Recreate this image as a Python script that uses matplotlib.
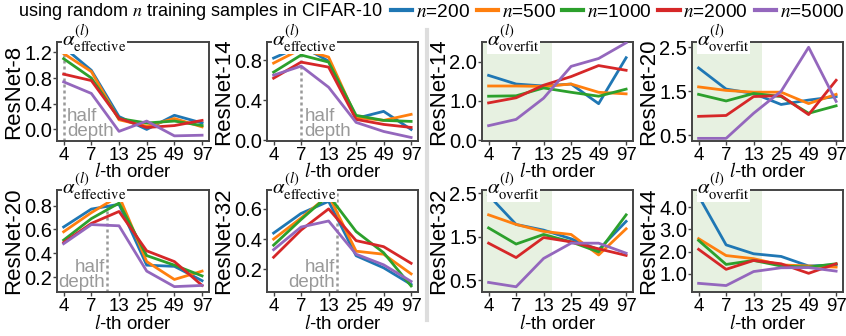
"""
Layer-wise alpha curves (effective / overfit) for ResNets trained on random CIFAR-10 subsets.
"""

import numpy as np
import matplotlib

matplotlib.use("Agg")
import matplotlib.pyplot as plt
from matplotlib.lines import Line2D


ORDERS = [4, 7, 13, 25, 49, 97]
SAMPLE_SIZES = [200, 500, 1000, 2000, 5000]
COLORS = ["#1f77b4", "#ff7f0e", "#2ca02c", "#d62728", "#9467bd"]

# rows: n=200, 500, 1000, 2000, 5000 ; columns: l = 4, 7, 13, 25, 49, 97
resnet8_effective = [
    [1.28, 0.92, 0.20, 0.00, 0.22, 0.10],
    [1.18, 0.90, 0.15, 0.05, 0.17, 0.04],
    [1.10, 0.80, 0.17, 0.10, 0.13, 0.06],
    [0.86, 0.76, 0.17, 0.03, 0.06, 0.14],
    [0.74, 0.56, -0.03, 0.13, -0.10, -0.09],
]
resnet14_effective = [
    [0.82, 0.94, 0.79, 0.22, 0.29, 0.11],
    [0.77, 0.91, 0.83, 0.23, 0.20, 0.26],
    [0.68, 0.85, 0.78, 0.25, 0.20, 0.19],
    [0.62, 0.78, 0.73, 0.21, 0.16, 0.13],
    [0.65, 0.74, 0.53, 0.18, 0.09, 0.03],
]
resnet20_effective = [
    [0.62, 0.77, 0.81, 0.30, 0.29, 0.17],
    [0.58, 0.74, 0.88, 0.33, 0.18, 0.25],
    [0.51, 0.69, 0.82, 0.38, 0.30, 0.21],
    [0.49, 0.65, 0.75, 0.42, 0.33, 0.13],
    [0.48, 0.64, 0.63, 0.25, 0.12, 0.13],
]
resnet32_effective = [
    [0.44, 0.57, 0.65, 0.29, 0.21, 0.10],
    [0.40, 0.54, 0.69, 0.32, 0.30, 0.17],
    [0.36, 0.53, 0.69, 0.45, 0.31, 0.09],
    [0.28, 0.46, 0.60, 0.39, 0.35, 0.24],
    [0.33, 0.48, 0.52, 0.30, 0.23, 0.12],
]
resnet14_overfit = [
    [1.65, 1.43, 1.38, 1.43, 0.93, 2.10],
    [1.38, 1.38, 1.37, 1.43, 1.22, 1.18],
    [1.12, 1.13, 1.33, 1.22, 1.12, 1.30],
    [0.95, 1.08, 1.40, 1.62, 1.90, 1.78],
    [0.37, 0.53, 1.07, 1.88, 2.08, 2.48],
]
resnet20_overfit = [
    [2.03, 1.55, 1.45, 1.20, 1.30, 1.38],
    [1.60, 1.52, 1.48, 1.48, 1.22, 1.43],
    [1.43, 1.28, 1.45, 1.38, 1.00, 1.17],
    [0.93, 0.95, 1.38, 1.40, 0.97, 1.75],
    [0.43, 0.43, 1.00, 1.50, 2.50, 1.27],
]
resnet32_overfit = [
    [2.45, 1.78, 1.65, 1.45, 1.20, 1.85],
    [2.00, 1.78, 1.62, 1.55, 1.08, 1.68],
    [1.70, 1.33, 1.55, 1.38, 1.15, 2.00],
    [1.35, 1.02, 1.48, 1.38, 1.22, 1.07],
    [0.45, 0.35, 1.00, 1.35, 1.35, 1.12],
]
resnet44_overfit = [
    [4.50, 2.30, 1.90, 1.78, 1.35, 1.40],
    [2.58, 1.82, 1.68, 1.40, 1.35, 1.30],
    [2.50, 1.42, 1.60, 1.35, 1.30, 1.45],
    [2.10, 1.20, 1.60, 1.45, 1.02, 1.45],
    [0.57, 0.47, 1.10, 1.27, 1.28, 1.12],
]

# half depth of each network (in units of l), and end of the shaded "overfit" region
HALF_DEPTH = {"ResNet-8": 4, "ResNet-14": 7, "ResNet-20": 10, "ResNet-32": 16}
OVERFIT_END = 16

# (name, data, kind, ylim, yticks, axes box in pixels: left, top, right, bottom)
PANELS = [
    ("ResNet-8", resnet8_effective, "effective", (-0.18, 1.36), [0.0, 0.4, 0.8, 1.2], (57, 42, 209, 141)),
    ("ResNet-14", resnet14_effective, "effective", (-0.005, 0.98), [0.0, 0.4, 0.8], (267, 42, 418, 141)),
    ("ResNet-14", resnet14_overfit, "overfit", (-0.02, 2.5), [0.0, 1.0, 2.0], (482, 42, 633, 141)),
    ("ResNet-20", resnet20_overfit, "overfit", (0.37, 2.62), [0.5, 1.5, 2.5], (692, 42, 843, 141)),
    ("ResNet-20", resnet20_effective, "effective", (0.075, 0.93), [0.2, 0.4, 0.6, 0.8], (57, 190, 209, 292)),
    ("ResNet-32", resnet32_effective, "effective", (0.05, 0.725), [0.2, 0.4, 0.6], (267, 190, 418, 292)),
    ("ResNet-32", resnet32_overfit, "overfit", (0.23, 2.57), [0.5, 1.5, 2.5], (482, 190, 633, 292)),
    ("ResNet-44", resnet44_overfit, "overfit", (0.18, 4.77), [1.0, 2.0, 3.0, 4.0], (692, 190, 843, 292)),
]

FIG_W, FIG_H = 846, 336
XLIM = (-0.24, 5.25)
SPINE_COLOR = "#444444"
SHADE_COLOR = "#e7f1e1"
HALF_COLOR = "#999999"


def order_to_x(l):
    # the x axis is evenly spaced in log(l)
    return float(np.interp(np.log(l), np.log(ORDERS), np.arange(len(ORDERS))))


def px_box(box):
    left, top, right, bottom = box
    return [left / FIG_W, 1 - bottom / FIG_H, (right - left) / FIG_W, (bottom - top) / FIG_H]


def draw_panel(fig, name, data, kind, ylim, yticks, box):
    ax = fig.add_axes(px_box(box))
    upper_row = box[1] < 100
    # upper row drawn last so its x label stays above the lower row's alpha tag
    ax.set_zorder(2 if upper_row else 1)
    x = np.arange(len(ORDERS))

    if kind == "overfit":
        ax.axvspan(XLIM[0], order_to_x(OVERFIT_END), color=SHADE_COLOR, lw=0, zorder=0)

    for values, color in zip(data, COLORS):
        ax.plot(x, values, color=color, lw=2.0, zorder=3)

    ax.set_xlim(*XLIM)
    ax.set_ylim(*ylim)
    ax.set_xticks(x)
    ax.set_xticklabels([str(o) for o in ORDERS])
    ax.set_yticks(yticks)
    ax.set_yticklabels([f"{t:.1f}" for t in yticks])
    ax.tick_params(axis="both", length=3, width=1, color=SPINE_COLOR)
    ax.tick_params(axis="x", labelsize=13.5, pad=1.5)
    ax.tick_params(axis="y", labelsize=14.5, pad=0.5)
    for spine in ax.spines.values():
        spine.set_color(SPINE_COLOR)
        spine.set_linewidth(1.4)

    ax.set_xlabel("$l$-th order", fontsize=13.5, labelpad=-1.5 if upper_row else -1)
    ax.set_ylabel(name, fontsize=16, labelpad=0)

    if kind == "effective":
        hx = order_to_x(HALF_DEPTH[name])
        ax.axvline(hx, color=HALF_COLOR, ls=(0, (1.2, 1.2)), lw=1.8, zorder=2)
        if hx < 1.2:
            ax.text(hx + 0.13, 0.01, "half\ndepth", color=HALF_COLOR, fontsize=13.5,
                    ha="left", va="bottom", linespacing=0.85, transform=ax.get_xaxis_transform())
        else:
            ax.text(hx - 0.08, 0.01, "half\ndepth", color=HALF_COLOR, fontsize=13.5,
                    ha="right", va="bottom", multialignment="right", linespacing=0.85,
                    transform=ax.get_xaxis_transform())

    label = r"$\alpha^{(l)}_{\mathrm{%s}}$" % kind
    ax.text(0.035, 0.965, label, fontsize=15, ha="left", va="baseline", transform=ax.transAxes,
            zorder=5, bbox=dict(facecolor="white", edgecolor="none", pad=0.2), clip_on=False)
    return ax


def main():
    plt.rcParams["font.family"] = ["Liberation Sans", "DejaVu Sans"]
    plt.rcParams["mathtext.fontset"] = "stix"

    fig = plt.figure(figsize=(FIG_W / 100, FIG_H / 100), dpi=100)

    for name, data, kind, ylim, yticks, box in PANELS:
        draw_panel(fig, name, data, kind, ylim, yticks, box)

    fig.text(18 / FIG_W, 1 - 12 / FIG_H, "using random $n$ training samples in CIFAR-10",
             fontsize=13, ha="left", va="center")
    handles = [Line2D([0], [0], color=c, lw=3) for c in COLORS]
    labels = [f"$n$={n}" for n in SAMPLE_SIZES]
    fig.legend(handles, labels, ncol=5, loc="center right", bbox_to_anchor=(1.0, 1 - 12 / FIG_H),
               frameon=False, fontsize=13.8, handlelength=1.1, handletextpad=0.2,
               columnspacing=0.35, borderpad=0, borderaxespad=0.1)

    # grey separator between the effective and overfit halves
    fig.add_artist(Line2D([427 / FIG_W, 427 / FIG_W], [0.048, 0.91], color="#dddddd", lw=3,
                          transform=fig.transFigure))

    fig.savefig("out.png", dpi=100)
    plt.close(fig)


if __name__ == "__main__":
    main()
